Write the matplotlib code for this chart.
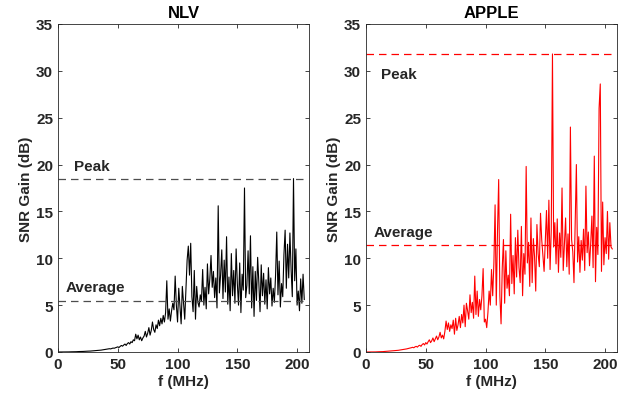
import numpy as np
import matplotlib
matplotlib.use("Agg")
import matplotlib.pyplot as plt

# ---------------------------------------------------------
# Data (1 MHz steps from 0 to 206)
# ---------------------------------------------------------
freq = np.arange(0, 207)

nlv_gain = [
    0, 0, 0, 0, 0, 0, 0, 0.01, 0.01, 0.01,
    0.02, 0.02, 0.02, 0.03, 0.03, 0.03, 0.04, 0.04, 0.05, 0.05,
    0.06, 0.06, 0.07, 0.07, 0.08, 0.09, 0.09, 0.1, 0.11, 0.12,
    0.13, 0.14, 0.15, 0.16, 0.18, 0.19, 0.2, 0.22, 0.24, 0.26,
    0.27, 0.3, 0.32, 0.35, 0.33, 0.38, 0.42, 0.4, 0.45, 0.5,
    0.55, 0.48, 0.6, 0.7, 0.62, 0.75, 0.85, 0.7, 0.9, 1.0,
    0.85, 1.1, 1.0, 1.3, 1.2, 1.9, 1.4, 1.8, 1.3, 1.6,
    1.2, 1.5, 1.7, 2.2, 1.6, 2.0, 2.6, 1.8, 2.3, 3.2,
    2.4, 2.1, 2.9, 2.5, 3.4, 2.8, 3.6, 3.0, 3.9, 3.2,
    4.2, 7.6, 3.5, 4.6, 3.3, 4.4, 5.2, 4.5, 8.1, 5.0,
    3.2, 6.8, 4.9, 3.0, 7.0, 5.2, 3.5, 6.6, 9.8, 11.3,
    8.2, 11.6, 5.9, 4.3, 8.7, 3.5, 7.0, 5.3, 4.8, 6.1,
    5.4, 8.8, 5.0, 6.9, 4.6, 9.4, 6.2, 7.8, 10.3, 6.9,
    8.6, 5.8, 7.9, 4.7, 15.6, 6.3, 8.2, 10.9, 5.7, 9.8,
    6.4, 12.3, 5.1, 8.0, 4.4, 10.5, 6.0, 8.7, 5.2, 11.0,
    7.3, 5.0, 9.5, 4.2, 8.3, 6.6, 17.5, 5.8, 7.1, 10.8,
    6.2, 12.4, 4.7, 9.1, 3.8, 8.6, 5.5, 10.1, 7.4, 4.3,
    9.3, 6.0, 8.4, 5.1, 7.7, 4.6, 9.0, 6.2, 7.9, 4.9,
    6.8, 5.3, 8.2, 12.8, 6.1, 9.7, 4.8, 7.3, 5.9, 10.4,
    13.0, 6.8, 11.5, 7.9, 12.7, 8.8, 5.9, 18.5, 7.6, 11.0,
    5.0, 6.5, 4.4, 7.8, 5.2, 8.3, 5.6,
]

apple_gain = [
    0, 0, 0, 0, 0, 0, 0.01, 0.01, 0.01, 0.02,
    0.02, 0.03, 0.03, 0.04, 0.04, 0.05, 0.06, 0.06, 0.07, 0.08,
    0.09, 0.1, 0.11, 0.12, 0.13, 0.15, 0.16, 0.18, 0.2, 0.22,
    0.24, 0.26, 0.28, 0.3, 0.33, 0.36, 0.39, 0.42, 0.46, 0.5,
    0.45, 0.55, 0.6, 0.52, 0.66, 0.72, 0.6, 0.8, 0.9, 0.75,
    1.0, 0.85, 1.1, 1.3, 1.0, 1.2, 1.5, 1.1, 1.4, 1.7,
    1.3, 1.6, 2.1, 1.5, 1.8, 1.4, 2.2, 3.3, 2.4, 3.1,
    2.2, 2.9, 2.5, 3.4, 1.9, 3.6, 2.3, 2.9, 3.8, 2.6,
    4.0, 3.1, 5.0, 2.7, 5.2, 4.4, 3.5, 6.1, 4.2, 5.3,
    3.6, 8.1, 4.0, 6.5, 3.8, 5.6, 4.5, 6.0, 8.9, 3.2,
    3.5, 2.6, 4.2, 6.5, 5.0, 8.8, 6.0, 9.5, 15.7, 5.0,
    12.8, 18.4, 6.0, 3.0, 9.0, 12.0, 5.2, 10.8, 6.8, 8.2,
    6.0, 14.7, 7.3, 10.3, 6.2, 12.2, 8.0, 13.0, 9.0, 7.4,
    13.4, 6.0, 10.5, 8.3, 19.8, 9.5, 11.7, 7.0, 14.3, 7.4,
    12.1, 10.2, 6.5, 13.6, 10.5, 9.1, 14.8, 12.0, 10.3, 8.6,
    11.8, 15.1, 10.0, 16.2, 8.8, 13.0, 31.8, 11.2, 13.8, 9.4,
    14.2, 8.5, 12.7, 10.1, 17.5, 8.7, 11.4, 14.3, 9.1, 12.6,
    8.3, 24.0, 12.0, 10.7, 7.4, 13.5, 20.0, 9.6, 12.3, 8.5,
    11.9, 9.8, 13.1, 8.7, 17.7, 10.6, 12.8, 9.2, 11.6, 14.5,
    9.0, 20.9, 7.5, 13.3, 10.4, 26.0, 28.6, 8.6, 16.0, 9.3,
    12.2, 10.5, 15.0, 9.9, 13.8, 11.2, 11.0,
]

titles = ["NLV", "APPLE"]
avg_levels = [5.4, 11.4]
colors = ["black", "red"]
ref_colors = ["0.3", "red"]

# text positions for the "Peak" / "Average" annotations
peak_text_pos = [(13, 19.4), (12.5, 29.2)]
avg_text_pos = [(6.5, 6.5), (6.5, 12.4)]

txt = "#262626"
plt.rcParams["font.family"] = ["Liberation Sans", "DejaVu Sans"]
plt.rcParams["font.weight"] = "bold"

fig = plt.figure(figsize=(6.28, 4.02), dpi=100)
ax_left = fig.add_axes([0.0924, 0.1219, 0.3997, 0.816])
ax_right = fig.add_axes([0.5828, 0.1219, 0.3997, 0.816])

for ax, gain, title, avg, c, rc, ppos, apos in zip(
        [ax_left, ax_right], [nlv_gain, apple_gain], titles, avg_levels,
        colors, ref_colors, peak_text_pos, avg_text_pos):
    peak = max(gain)
    ax.plot(freq, gain, color=c, lw=0.8)
    ax.plot([freq[0], freq[-1]], [peak, peak], color=rc, lw=0.9, dashes=(6, 4))
    ax.plot([freq[0], freq[-1]], [avg, avg], color=rc, lw=0.9, dashes=(6, 4))
    ax.text(ppos[0], ppos[1], "Peak", fontsize=11, fontweight="bold", color=txt)
    ax.text(apos[0], apos[1], "Average", fontsize=11, fontweight="bold", color=txt)

    ax.set_xlim(0, 210)
    ax.set_ylim(0, 35)
    ax.set_xticks([0, 50, 100, 150, 200])
    ax.set_yticks(range(0, 36, 5))
    ax.tick_params(direction="in", top=True, right=True, length=3,
                   labelsize=11, colors=txt, width=0.6)
    for lab in ax.get_xticklabels() + ax.get_yticklabels():
        lab.set_fontweight("bold")
    for sp in ax.spines.values():
        sp.set_color(txt)
        sp.set_linewidth(0.6)
    ax.set_title(title, fontsize=12, fontweight="bold", color="black", pad=5)
    ax.set_xlabel("f (MHz)", fontsize=11, fontweight="bold", color=txt, labelpad=2)
    ax.set_ylabel("SNR Gain (dB)", fontsize=11, fontweight="bold", color=txt, labelpad=2)

fig.savefig("out.png", dpi=100)
